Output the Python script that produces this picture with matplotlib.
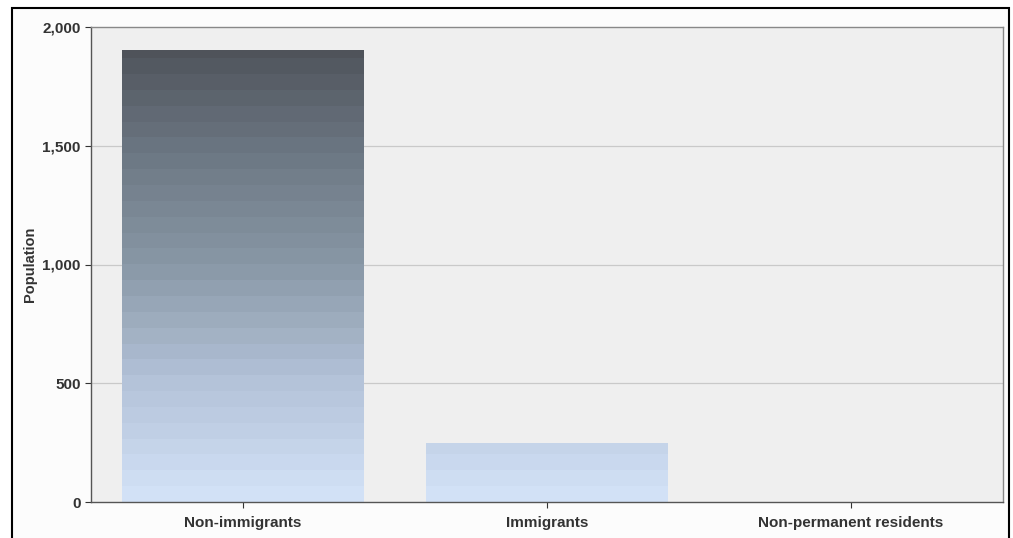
import matplotlib.pyplot as plt
import numpy as np
from matplotlib.colors import LinearSegmentedColormap
from matplotlib.patches import Rectangle

categories = ['Non-immigrants', 'Immigrants', 'Non-permanent residents']
population = [1905, 250, 0]
yticks = [0, 500, 1000, 1500, 2000]

plt.rcParams['font.family'] = ['Liberation Sans', 'DejaVu Sans']

fig = plt.figure(figsize=(10.13, 5.38), dpi=100)
fig.patch.set_facecolor('white')
# outer frame
fig.add_artist(Rectangle((12 / 1013, -0.01), 997 / 1013, 1 - 8 / 538 + 0.01,
                         transform=fig.transFigure, fill=True, facecolor='#fcfcfc',
                         edgecolor='black', linewidth=1.5, zorder=-10))

ax = fig.add_axes([91 / 1013, 1 - 502 / 538, 912 / 1013, 475 / 538])
ax.set_facecolor('#efefef')
ax.set_xlim(-0.5, 2.5)
ax.set_ylim(0, 2000)

for y in yticks[1:-1]:
    ax.axhline(y, color='#c9c9c9', linewidth=0.9, zorder=0)

cmap = LinearSegmentedColormap.from_list('bar', ['#d2e1f6', '#b3c2d8', '#8998a6', '#6b7682', '#4b4f55'])
grad = np.linspace(0, 1, 30).reshape(-1, 1)

width = 0.795
for i, v in enumerate(population):
    if v <= 0:
        continue
    bar = ax.bar(i, v, width=width, color='none', edgecolor='none')[0]
    img = ax.imshow(grad, cmap=cmap, origin='lower', aspect='auto',
                    extent=[i - width / 2, i + width / 2, 0, 2000], zorder=2)
    img.set_clip_path(bar)

ax.set_xlim(-0.5, 2.5)
ax.set_ylim(0, 2000)
ax.set_xticks(range(len(categories)))
ax.set_xticklabels(categories)
ax.set_yticks(yticks)
ax.set_yticklabels([f'{t:,}' for t in yticks])
ax.tick_params(axis='both', labelsize=11, colors='#333333', length=4, width=0.8)
ax.tick_params(axis='x', pad=6)
for lab in ax.get_xticklabels() + ax.get_yticklabels():
    lab.set_fontweight('bold')
ax.set_ylabel('Population', fontsize=10.5, fontweight='bold', color='#333333', labelpad=4)

ax.spines['left'].set_color('#555555')
ax.spines['bottom'].set_color('#555555')
ax.spines['top'].set_color('#888888')
ax.spines['right'].set_color('#888888')
for s in ax.spines.values():
    s.set_linewidth(1.0)

fig.savefig('out.png', dpi=100)
